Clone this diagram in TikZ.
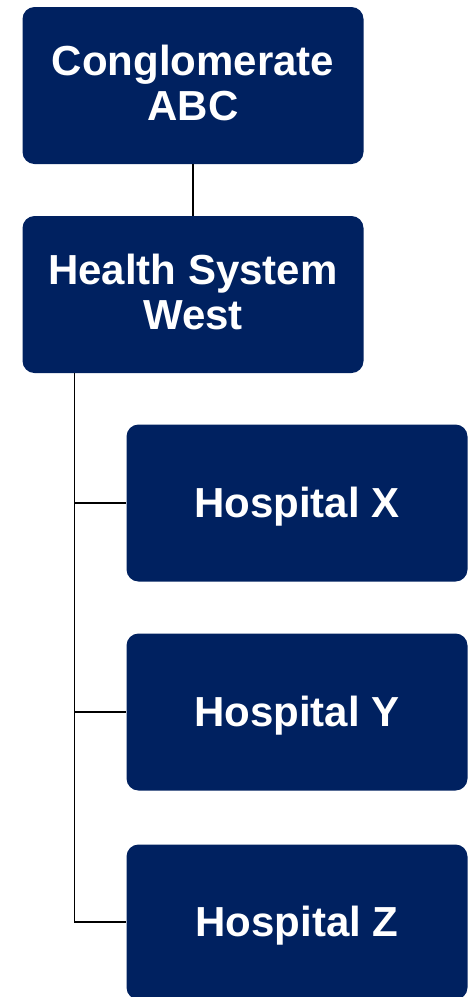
\documentclass[tikz,border=0pt]{standalone}
\usepackage{fontspec}
\setmainfont{Liberation Sans}
\usetikzlibrary{shapes,arrows}
\definecolor{navy}{RGB}{0,33,96}
\tikzstyle{orgbox} = [rectangle, rounded corners=12pt, minimum width=341pt,
minimum height=157pt, text centered, align=center, fill=navy, text=white,
text depth=2pt, font=\fontsize{42}{45}\selectfont\bfseries]
\tikzstyle{twoline} = [orgbox, text depth=6pt]
\tikzstyle{orgLine} = [line width=1.5pt, black]

\begin{document}
\begin{tikzpicture}[node distance=209pt]
		\useasboundingbox (0,0) rectangle (467pt,-997pt);
		%blocks
		\node[twoline] at (193pt,-85.5pt)(conglo){Conglomerate\\ABC};
		\node[twoline, below of=conglo](hsw){Health System\\West};
		\node[orgbox, below of=hsw, xshift=104pt, yshift=0.5pt](hospX){Hospital X};
		\node[orgbox, below of=hospX](hospY){Hospital Y};
		\node[orgbox, below of=hospY, minimum height=155pt, yshift=-1pt](hospZ){Hospital Z};

		%lines
		\draw[orgLine](conglo)--(hsw);
		\draw[orgLine]([xshift=52pt]hsw.south west)|-(hospX.west);
		\draw[orgLine]([xshift=52pt]hsw.south west)|-(hospY.west);
		\draw[orgLine]([xshift=52pt]hsw.south west)|-(hospZ.west);
	\end{tikzpicture}
\end{document}
